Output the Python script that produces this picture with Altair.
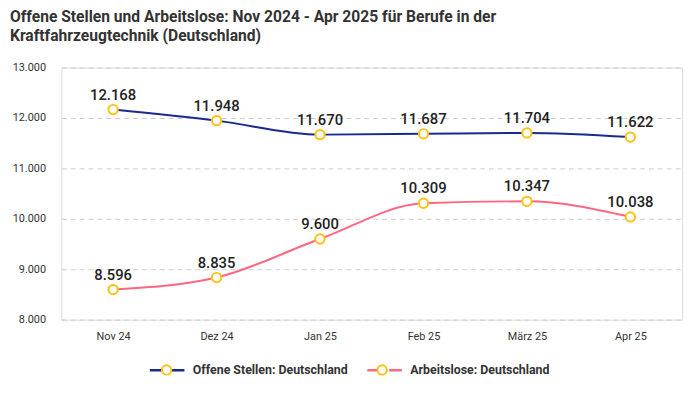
import altair as alt
import pandas as pd

months = ["Nov 24", "Dez 24", "Jan 25", "Feb 25", "März 25", "Apr 25"]
offene = [12168, 11948, 11670, 11687, 11704, 11622]
arbeitslose = [8596, 8835, 9600, 10309, 10347, 10038]
series_names = ["Offene Stellen: Deutschland", "Arbeitslose: Deutschland"]
series_codes = ["A", "B"]
line_colors = ["#1a2a8f", "#ff6680"]
marker_color = "#ffc20e"
y_ticks = [8000, 9000, 10000, 11000, 12000, 13000]

rows = []
for name, code, vals in zip(series_names, series_codes, [offene, arbeitslose]):
    for m, v in zip(months, vals):
        rows.append({"Monat": m, "Wert": v, "Serie": name, "Code": code,
                     "Label": f"{v:,}".replace(",", ".")})
df = pd.DataFrame(rows)

FONT = "Roboto"
R = 0.27
circle_path = f"M-1,0M1,0M-{R},0A{R},{R} 0 1,0 {R},0A{R},{R} 0 1,0 -{R},0Z"
line_path = f"M-1,0H-{R}M{R},0H1"

code_label_expr = "datum.label == 'A' ? '%s' : '%s'" % (series_names[0], series_names[1])

x_enc = alt.X("Monat:N", sort=months, scale=alt.Scale(type="point", padding=0.5),
              axis=alt.Axis(title="Chart: gute-jobs.de (Wollmilchsau GmbH) | Datenquelle: Bundesagentur für Arbeit",
                            titleFontSize=10, titleFontWeight="normal", titleColor="#333333",
                            titleFont=FONT, titleAnchor="start", titleAlign="left",
                            titleX=-52, titleY=322, titleBaseline="alphabetic",
                            labelAngle=0, labelFontSize=11, labelColor="#333333", labelFont=FONT,
                            labelPadding=11, ticks=False, domain=False, grid=False))
y_enc = alt.Y("Wert:Q", scale=alt.Scale(domain=[8000, 13000], nice=False, zero=False),
              axis=alt.Axis(title=None, values=y_ticks, labelExpr="replace(format(datum.value, ','), ',', '.')",
                            labelFontSize=11, labelColor="#333333", labelFont=FONT, labelPadding=16,
                            ticks=False, domain=False, grid=True, gridDash=[5, 4],
                            gridColor="#cccccc", gridWidth=1))

base = alt.Chart(df)

legend_common = dict(title=None, orient="none", legendX=88, legendY=287,
                     direction="horizontal", symbolSize=1225,
                     labelFontSize=12.5, labelFontWeight="bold", labelFont=FONT,
                     labelOffset=7, columnPadding=14)

lines = base.mark_line(interpolate="monotone", strokeWidth=2).encode(
    x=x_enc, y=y_enc,
    stroke=alt.Stroke("Serie:N", sort=series_names,
                      scale=alt.Scale(domain=series_names, range=line_colors),
                      legend=alt.Legend(symbolType=line_path, symbolStrokeWidth=2.5,
                                        labelColor="#333333", **legend_common)),
)

points = base.mark_point(filled=False, fill="white", fillOpacity=1,
                         strokeWidth=2, size=1225, shape=circle_path, opacity=1).encode(
    x=x_enc, y=y_enc,
    stroke=alt.Stroke("Code:N", sort=series_codes,
                      scale=alt.Scale(domain=series_codes, range=[marker_color, marker_color]),
                      legend=alt.Legend(labelExpr=code_label_expr, labelOpacity=0,
                                        symbolType=circle_path, symbolFillColor="white",
                                        symbolStrokeWidth=2, symbolOpacity=1,
                                        **legend_common)),
)

labels = base.mark_text(dy=-10, baseline="alphabetic", fontSize=15, fontWeight=500,
                        font=FONT, color="#222222").encode(
    x=x_enc, y=y_enc, text="Label:N")

chart = alt.layer(lines, points, labels).resolve_scale(stroke="independent").resolve_legend(
    stroke="independent").properties(
    width=628, height=255,
    autosize=alt.AutoSizeParams(type="none"),
    padding={"left": 54, "top": 58, "right": 10, "bottom": 79},
    title=alt.TitleParams(
        text=["Offene Stellen und Arbeitslose: Nov 2024 - Apr 2025 für Berufe in der",
              "Kraftfahrzeugtechnik (Deutschland)"],
        anchor="start", frame="group", dx=-52, offset=17, fontSize=15.8, fontWeight="bold",
        font=FONT, color="#333333", lineHeight=19),
).configure_view(stroke=None).configure(background="white")

chart.save("out.html", embed_options={"renderer": "svg", "actions": False})
